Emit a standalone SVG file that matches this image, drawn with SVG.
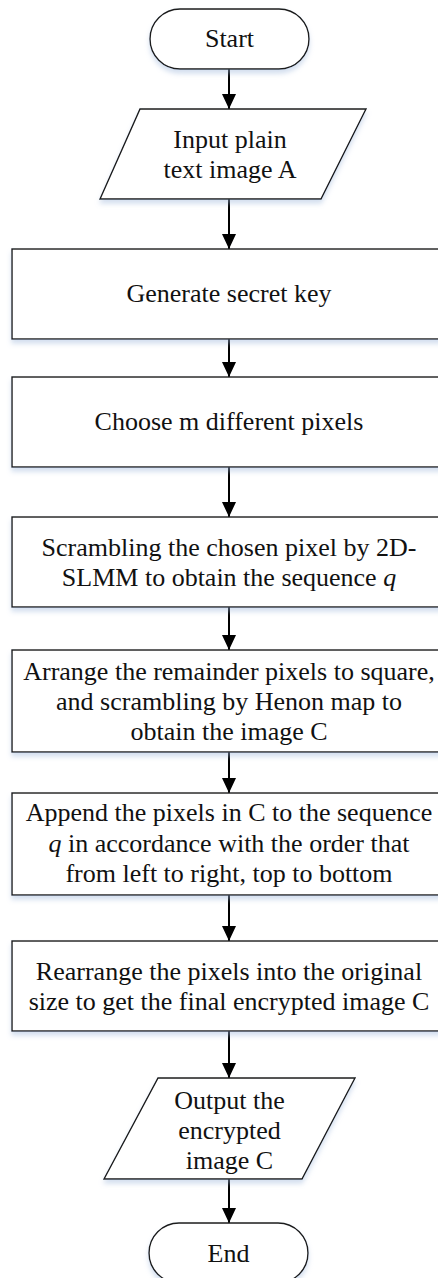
<svg xmlns="http://www.w3.org/2000/svg" width="438" height="1278" viewBox="0 0 438 1278">
  <style>
    .shape { fill: #ffffff; stroke: #1a1a1a; stroke-width: 1.4; filter: url(#soft); }
    .lbl { font-family: "Liberation Serif", "Times New Roman", serif; font-size: 26px; fill: #111111; text-anchor: middle; }
    .conn { stroke: #000000; stroke-width: 2; fill: none; marker-end: url(#arrow); }
  </style>
  <defs>
    <!-- pale blue drop shadow under every shape -->
    <filter id="soft" x="-10%" y="-10%" width="120%" height="130%">
      <feGaussianBlur in="SourceAlpha" stdDeviation="2.5" result="b"/>
      <feOffset in="b" dx="0" dy="4" result="o"/>
      <feFlood flood-color="#9fb8dc" flood-opacity="0.45"/>
      <feComposite in2="o" operator="in" result="s"/>
      <feMerge><feMergeNode in="s"/><feMergeNode in="SourceGraphic"/></feMerge>
    </filter>
    <marker id="arrow" markerWidth="15" markerHeight="15" viewBox="0 0 15 14" refX="15" refY="7" orient="auto" markerUnits="userSpaceOnUse">
      <path d="M0,0 L15,7 L0,14 Z" fill="#000000"/>
    </marker>
  </defs>

  <rect width="438" height="1278" fill="#ffffff"/>

  <g id="connectors">
    <line class="conn" x1="229" y1="69" x2="229" y2="109"/>
    <line class="conn" x1="229" y1="199" x2="229" y2="249"/>
    <line class="conn" x1="229" y1="339" x2="229" y2="377"/>
    <line class="conn" x1="229" y1="467" x2="229" y2="517"/>
    <line class="conn" x1="229" y1="607" x2="229" y2="650"/>
    <line class="conn" x1="229" y1="752" x2="229" y2="793"/>
    <line class="conn" x1="229" y1="895" x2="229" y2="941"/>
    <line class="conn" x1="229" y1="1031" x2="229" y2="1078"/>
    <line class="conn" x1="229" y1="1179" x2="229" y2="1223"/>
  </g>

  <g id="start">
    <rect class="shape" x="150" y="9" width="159" height="60" rx="30" ry="30"/>
    <text class="lbl" x="229.5" y="47">Start</text>
  </g>

  <g id="input">
    <polygon class="shape" points="140,109 366,109 321,199 100,199"/>
    <text class="lbl" x="230" y="148">Input plain</text>
    <text class="lbl" x="230" y="178">text image A</text>
  </g>

  <g id="generate-key">
    <rect class="shape" x="12" y="249" width="434" height="90"/>
    <text class="lbl" x="229" y="302">Generate secret key</text>
  </g>

  <g id="choose-pixels">
    <rect class="shape" x="12" y="377" width="434" height="90"/>
    <text class="lbl" x="229" y="430">Choose m different pixels</text>
  </g>

  <g id="scramble-chosen">
    <rect class="shape" x="12" y="517" width="434" height="90"/>
    <text class="lbl" x="229" y="556">Scrambling the chosen pixel by 2D-</text>
    <text class="lbl" x="229" y="586">SLMM to obtain the sequence <tspan font-style="italic">q</tspan></text>
  </g>

  <g id="arrange-remainder">
    <rect class="shape" x="12" y="650" width="434" height="102"/>
    <text class="lbl" x="229" y="680">Arrange the remainder pixels to square,</text>
    <text class="lbl" x="229" y="710">and scrambling by Henon map to</text>
    <text class="lbl" x="229" y="740">obtain the image C</text>
  </g>

  <g id="append-pixels">
    <rect class="shape" x="12" y="793" width="434" height="102"/>
    <text class="lbl" x="229" y="821">Append the pixels in C to the sequence</text>
    <text class="lbl" x="229" y="852"><tspan font-style="italic">q</tspan> in accordance with the order that</text>
    <text class="lbl" x="229" y="882">from left to right, top to bottom</text>
  </g>

  <g id="rearrange">
    <rect class="shape" x="12" y="941" width="434" height="90"/>
    <text class="lbl" x="229" y="980">Rearrange the pixels into the original</text>
    <text class="lbl" x="229" y="1010">size to get the final encrypted image C</text>
  </g>

  <g id="output">
    <polygon class="shape" points="158,1078 355,1078 302,1179 104,1179"/>
    <text class="lbl" x="229.5" y="1109">Output the</text>
    <text class="lbl" x="229.5" y="1139">encrypted</text>
    <text class="lbl" x="229.5" y="1169">image C</text>
  </g>

  <g id="end">
    <rect class="shape" x="149" y="1223" width="159" height="60" rx="30" ry="30"/>
    <text class="lbl" x="228.5" y="1262">End</text>
  </g>
</svg>
